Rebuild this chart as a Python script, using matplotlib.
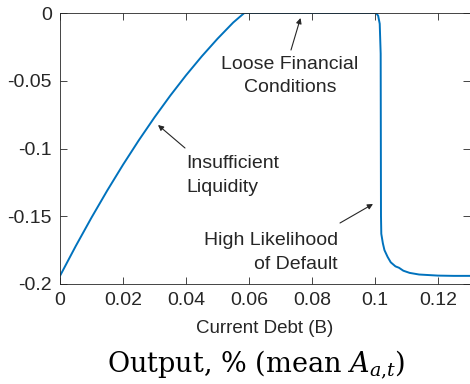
import matplotlib
matplotlib.use("Agg")
import matplotlib.pyplot as plt

# ---- data ----
debt = [0.0, 0.005, 0.01, 0.015, 0.02, 0.025, 0.03, 0.035, 0.04, 0.045, 0.05,
        0.055, 0.0585, 0.07, 0.08, 0.09, 0.1003, 0.101, 0.1015, 0.1018, 0.1019,
        0.102, 0.1025, 0.103, 0.1034, 0.104, 0.105, 0.1065, 0.1076, 0.109,
        0.111, 0.114, 0.117, 0.12, 0.125, 0.13]
output = [-0.194, -0.172, -0.151, -0.131, -0.112, -0.094, -0.077, -0.061, -0.046,
          -0.032, -0.019, -0.007, 0.0, 0.0, 0.0, 0.0, 0.0, -0.002, -0.008, -0.03,
          -0.15, -0.163, -0.170, -0.175, -0.177, -0.180, -0.184, -0.187, -0.188,
          -0.1902, -0.1918, -0.1930, -0.1934, -0.1938, -0.194, -0.194]

xticks = [0, 0.02, 0.04, 0.06, 0.08, 0.1, 0.12]
xticklabels = ["0", "0.02", "0.04", "0.06", "0.08", "0.1", "0.12"]
yticks = [0, -0.05, -0.1, -0.15, -0.2]
yticklabels = ["0", "-0.05", "-0.1", "-0.15", "-0.2"]

plt.rcParams['font.family'] = ['Liberation Sans', 'DejaVu Sans']
plt.rcParams['mathtext.fontset'] = 'dejavuserif'

W, H = 470, 384
fig = plt.figure(figsize=(W / 100, H / 100), dpi=100)
ax = fig.add_axes([60 / W, 1 - 284 / H, (469.5 - 60) / W, (284 - 13) / H])

axcol = '#262626'
ax.plot(debt, output, color='#0072BD', lw=1.4)
ax.set_xlim(0, 0.13)
ax.set_ylim(-0.2, 0)
ax.set_xticks(xticks)
ax.set_xticklabels(xticklabels)
ax.set_yticks(yticks)
ax.set_yticklabels(yticklabels)
ax.tick_params(direction='in', length=5, width=0.6, colors=axcol, labelsize=14,
               top=True, right=True, pad=6)
for s in ax.spines.values():
    s.set_color(axcol)
    s.set_linewidth(0.6)
ax.set_xlabel("Current Debt (B)", fontsize=13.5, color=axcol, labelpad=8)

def px2data(px, py):
    return ax.transData.inverted().transform(fig.transFigure.transform((px / W, 1 - py / H)))

arrowprops = dict(arrowstyle='-|>', color=axcol, lw=0.8, mutation_scale=8,
                  shrinkA=0, shrinkB=0)

# Loose Financial Conditions
ax.annotate("", xy=px2data(300.5, 18), xytext=px2data(291, 50), arrowprops=arrowprops)
ax.text(*px2data(290, 76), "Loose Financial\nConditions", ha='center', va='center',
        fontsize=14, color=axcol, linespacing=1.5)

# Insufficient Liquidity
ax.annotate("", xy=px2data(158, 125), xytext=px2data(185, 148), arrowprops=arrowprops)
ax.text(*px2data(186, 175.5), "Insufficient\nLiquidity", ha='left', va='center',
        fontsize=14, color=axcol, linespacing=1.5)

# High Likelihood of Default
ax.annotate("", xy=px2data(373, 204), xytext=px2data(340, 223), arrowprops=arrowprops)
ax.text(*px2data(338, 252.5), "High Likelihood\nof Default", ha='right', va='center',
        fontsize=14, color=axcol, linespacing=1.5, multialignment='right')

fig.text(256.5 / W, 1 - 372 / H, r"Output, % (mean $A_{a{,}t}$)", ha='center',
         va='baseline', fontsize=19.5, family='DejaVu Serif', color='black')

fig.savefig("out.png", dpi=100)
